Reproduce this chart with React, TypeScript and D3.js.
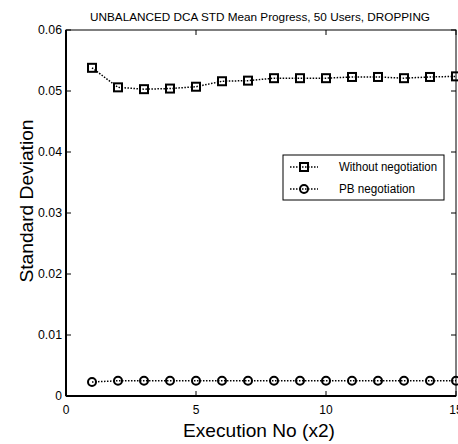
import React from 'react';
import * as d3 from 'd3';

const executions = [1, 2, 3, 4, 5, 6, 7, 8, 9, 10, 11, 12, 13, 14, 15];
const withoutNegotiation = [0.0538, 0.0506, 0.0503, 0.0504, 0.0507, 0.0516, 0.0517, 0.0521, 0.0521, 0.0521, 0.0523, 0.0523, 0.0521, 0.0523, 0.0524];
const pbNegotiation = [0.0023, 0.0025, 0.0025, 0.0025, 0.0025, 0.0025, 0.0025, 0.0025, 0.0025, 0.0025, 0.0025, 0.0025, 0.0025, 0.0025, 0.0025];
const xTicks = [0, 5, 10, 15];
const yTicks = [0, 0.01, 0.02, 0.03, 0.04, 0.05, 0.06];
const seriesNames = ['Without negotiation', 'PB negotiation'];

const font = "'Liberation Sans', Arial, sans-serif";

export default function App() {
  const W = 458, H = 444;
  const m = { left: 66, right: 456, top: 30, bottom: 396 };

  const x = d3.scaleLinear().domain([0, 15]).range([m.left, m.right]);
  const y = d3.scaleLinear().domain([0, 0.06]).range([m.bottom, m.top]);

  const line = d3.line<number>()
    .x((_, i) => x(executions[i]))
    .y(d => y(d));

  const sq = 4;
  const tick = 5;

  return (
    <svg width={W} height={H} style={{ position: 'absolute', left: 0, top: 0, background: '#fff' }}>
      <defs>
        <clipPath id="clip">
          <rect x={m.left} y={m.top - 6} width={W - m.left} height={m.bottom - m.top + 12} />
        </clipPath>
      </defs>
      <rect x={0} y={0} width={W} height={H} fill="#fff" />
      <text x={260} y={21} textAnchor="middle" fontFamily={font} fontSize={11.5} fill="#000"
        textLength={340} lengthAdjust="spacingAndGlyphs">
        UNBALANCED DCA STD Mean Progress, 50 Users, DROPPING
      </text>

      {/* frame */}
      <rect x={m.left} y={m.top} width={m.right - m.left} height={m.bottom - m.top} fill="none" stroke="#000" strokeWidth={1} />
      <line x1={m.left} x2={m.left} y1={m.top} y2={m.bottom} stroke="#000" strokeWidth={2} />
      <line x1={m.left} x2={m.right} y1={m.bottom} y2={m.bottom} stroke="#000" strokeWidth={2} />

      {/* y ticks */}
      {yTicks.map(t => (
        <g key={'y' + t}>
          <line x1={m.left} x2={m.left + tick} y1={y(t)} y2={y(t)} stroke="#000" />
          <line x1={m.right} x2={m.right - tick} y1={y(t)} y2={y(t)} stroke="#000" />
          <text x={m.left - 4} y={y(t) + 4} textAnchor="end" fontFamily={font} fontSize={12} fill="#000"
            textLength={t === 0 ? undefined : 24} lengthAdjust="spacingAndGlyphs">
            {t === 0 ? '0' : d3.format('.2f')(t)}
          </text>
        </g>
      ))}

      {/* x ticks */}
      {xTicks.map(t => (
        <g key={'x' + t}>
          <line x1={x(t)} x2={x(t)} y1={m.bottom} y2={m.bottom - tick} stroke="#000" />
          <line x1={x(t)} x2={x(t)} y1={m.top} y2={m.top + tick} stroke="#000" />
          <text x={x(t)} y={m.bottom + 18} textAnchor="middle" fontFamily={font} fontSize={12} fill="#000">
            {t}
          </text>
        </g>
      ))}

      <g clipPath="url(#clip)">
        <path d={line(withoutNegotiation) || ''} fill="none" stroke="#000" strokeWidth={1.5} strokeDasharray="1.5,1.5" />
        <path d={line(pbNegotiation) || ''} fill="none" stroke="#000" strokeWidth={1.5} strokeDasharray="1.5,1.5" />
        {withoutNegotiation.map((v, i) => (
          <rect key={'s' + i} x={x(executions[i]) - sq} y={y(v) - sq} width={sq * 2} height={sq * 2}
            fill="none" stroke="#000" strokeWidth={2} />
        ))}
        {pbNegotiation.map((v, i) => (
          <circle key={'c' + i} cx={x(executions[i])} cy={y(v)} r={4} fill="none" stroke="#000" strokeWidth={2} />
        ))}
      </g>

      {/* legend */}
      <g>
        <rect x={283} y={155} width={161} height={45} fill="#fff" stroke="#000" strokeWidth={1} />
        <line x1={290} x2={318} y1={167} y2={167} stroke="#000" strokeWidth={1.5} strokeDasharray="1.5,1.5" />
        <rect x={304 - sq} y={167 - sq} width={sq * 2} height={sq * 2} fill="none" stroke="#000" strokeWidth={2} />
        <text x={339} y={171} fontFamily={font} fontSize={12} fill="#000"
          textLength={98} lengthAdjust="spacingAndGlyphs">{seriesNames[0]}</text>
        <line x1={290} x2={318} y1={189} y2={189} stroke="#000" strokeWidth={1.5} strokeDasharray="1.5,1.5" />
        <circle cx={304} cy={189} r={4} fill="none" stroke="#000" strokeWidth={2} />
        <text x={339} y={193} fontFamily={font} fontSize={12} fill="#000"
          textLength={76} lengthAdjust="spacingAndGlyphs">{seriesNames[1]}</text>
      </g>

      <text x={259} y={437} textAnchor="middle" fontFamily={font} fontSize={19} fill="#000"
        textLength={152} lengthAdjust="spacingAndGlyphs">
        Execution No (x2)
      </text>
      <text transform="translate(33,201) rotate(-90)" textAnchor="middle"
        fontFamily={font} fontSize={18} fill="#000" textLength={163} lengthAdjust="spacingAndGlyphs">
        Standard Deviation
      </text>
    </svg>
  );
}
